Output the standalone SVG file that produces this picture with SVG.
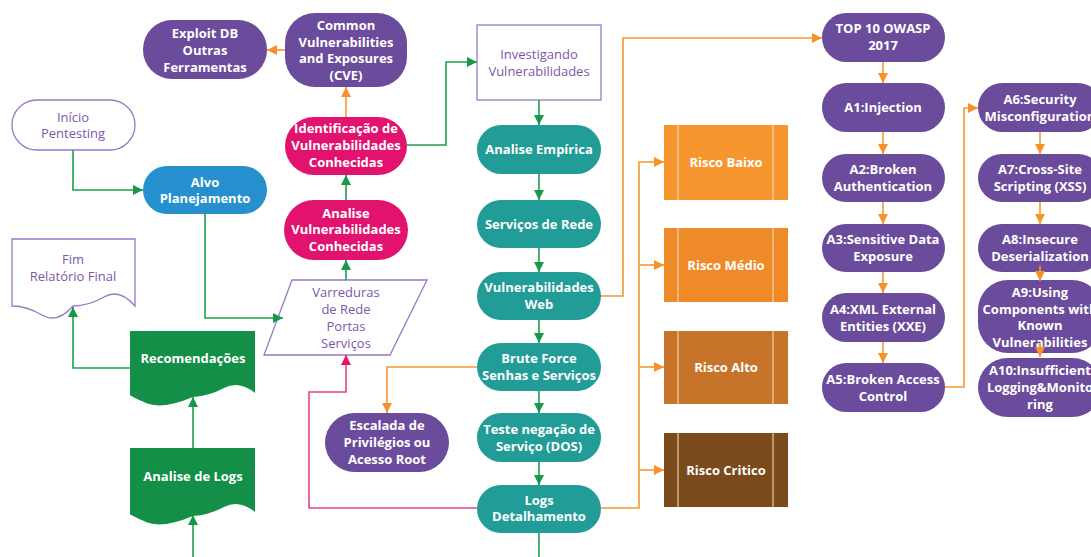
<svg xmlns="http://www.w3.org/2000/svg" width="1091" height="557" viewBox="0 0 1091 557">
<defs>
<style>
.t{font-family:"Open Sans","Noto Sans","DejaVu Sans",sans-serif;font-size:13px;text-anchor:middle;dominant-baseline:central}
.w{fill:#fff;font-weight:bold}
.p{fill:#7d56ad}
.purple{fill:#6b4b9b}
.teal{fill:#229c97}
.pink{fill:#e2136f}
.blue{fill:#2690cf}
.dgreen{fill:#138f48}
.outline{fill:#fff;stroke:#9a78c4;stroke-width:1.3}
.g{fill:none;stroke:#1da04c;stroke-width:1.6}
.o{fill:none;stroke:#f7972f;stroke-width:1.6}
.k{fill:none;stroke:#e8428c;stroke-width:1.6}
.div{stroke:#fbe3c8;stroke-width:1}
</style>
<marker id="ag" viewBox="0 0 10 10" refX="10" refY="5" markerWidth="11" markerHeight="10" markerUnits="userSpaceOnUse" orient="auto"><path d="M0,0L10,5L0,10z" fill="#17994a"/></marker>
<marker id="ao" viewBox="0 0 10 10" refX="10" refY="5" markerWidth="11" markerHeight="10" markerUnits="userSpaceOnUse" orient="auto"><path d="M0,0L10,5L0,10z" fill="#f7922a"/></marker>
<marker id="ak" viewBox="0 0 10 10" refX="10" refY="5" markerWidth="11" markerHeight="10" markerUnits="userSpaceOnUse" orient="auto"><path d="M0,0L10,5L0,10z" fill="#e4136f"/></marker>
</defs>
<rect width="1091" height="557" fill="#fff"/>

<g id="exploit-db"><rect class="purple" x="143" y="20" width="124" height="59" rx="29"/><text class="t w" x="205"><tspan x="205" y="33">Exploit DB</tspan><tspan x="205" y="50">Outras</tspan><tspan x="205" y="67">Ferramentas</tspan></text></g>
<g id="inicio"><rect class="outline" x="12" y="100" width="123" height="50" rx="25"/><text class="t p"><tspan x="73" y="117">Início</tspan><tspan x="73" y="133">Pentesting</tspan></text></g>
<g id="alvo"><rect class="blue" x="143" y="166" width="124" height="48" rx="24"/><text class="t w"><tspan x="205" y="182">Alvo</tspan><tspan x="205" y="198">Planejamento</tspan></text></g>
<g id="cve"><rect class="purple" x="285" y="13" width="122" height="74" rx="30"/><text class="t w"><tspan x="346" y="25">Common</tspan><tspan x="346" y="42">Vulnerabilities</tspan><tspan x="346" y="58">and Exposures</tspan><tspan x="346" y="75">(CVE)</tspan></text></g>
<g id="identificacao"><rect class="pink" x="285" y="117" width="122" height="58" rx="29"/><text class="t w"><tspan x="346" y="128">Identificação de</tspan><tspan x="346" y="145">Vulnerabilidades</tspan><tspan x="346" y="162">Conhecidas</tspan></text></g>
<g id="analise-vuln"><rect class="pink" x="284" y="200" width="124" height="60" rx="30"/><text class="t w"><tspan x="346" y="213">Analise</tspan><tspan x="346" y="229">Vulnerabilidades</tspan><tspan x="346" y="246">Conhecidas</tspan></text></g>
<g id="varreduras"><path class="outline" d="M292,280H427L390,355H264Z"/><text class="t p"><tspan x="346" y="292">Varreduras</tspan><tspan x="346" y="309">de Rede</tspan><tspan x="346" y="326">Portas</tspan><tspan x="346" y="343">Serviços</tspan></text></g>
<g id="investigando"><rect class="outline" x="477" y="25" width="124" height="75"/><text class="t p"><tspan x="539" y="54">Investigando</tspan><tspan x="539" y="71">Vulnerabilidades</tspan></text></g>
<g id="empirica"><rect class="teal" x="477" y="125" width="124" height="49" rx="24.5"/><text class="t w" x="539" y="149">Analise Empírica</text></g>
<g id="servicos"><rect class="teal" x="477" y="200" width="124" height="48" rx="24"/><text class="t w" x="539" y="224">Serviços de Rede</text></g>
<g id="vuln-web"><rect class="teal" x="477" y="272" width="124" height="48" rx="24"/><text class="t w"><tspan x="539" y="287">Vulnerabilidades</tspan><tspan x="539" y="304">Web</tspan></text></g>
<g id="brute"><rect class="teal" x="477" y="343" width="124" height="48" rx="24"/><text class="t w"><tspan x="539" y="358">Brute Force</tspan><tspan x="539" y="375">Senhas e Serviços</tspan></text></g>
<g id="dos"><rect class="teal" x="477" y="413" width="124" height="49" rx="24.5"/><text class="t w"><tspan x="539" y="429">Teste negação de</tspan><tspan x="539" y="446">Serviço (DOS)</tspan></text></g>
<g id="logs"><rect class="teal" x="477" y="485" width="124" height="48" rx="24"/><text class="t w"><tspan x="539" y="500">Logs</tspan><tspan x="539" y="516">Detalhamento</tspan></text></g>
<g id="escalada"><rect class="purple" x="325" y="413" width="124" height="59" rx="29.5"/><text class="t w"><tspan x="387" y="425">Escalada de</tspan><tspan x="387" y="442">Privilégios ou</tspan><tspan x="387" y="459">Acesso Root</tspan></text></g>

<g id="fim"><path class="outline" d="M12,239H135V306Q119.5,288 104,297T73,306Q57.5,324 42,315T12,306Z"/><text class="t p"><tspan x="73" y="259">Fim</tspan><tspan x="73" y="276">Relatório Final</tspan></text></g>
<g id="recomendacoes"><path class="dgreen" d="M130,331H255V393Q239,380 224,388T193,397Q162,410 146,403T130,395Z"/><text class="t w" x="193" y="358">Recomendações</text></g>
<g id="analise-logs"><path class="dgreen" d="M130,448H255V512Q239,499 224,507T193,516Q162,529 146,522T130,514Z"/><text class="t w" x="193" y="476">Analise de Logs</text></g>

<g id="risco-baixo"><rect x="664" y="125" width="124" height="75" fill="#f7962f"/><path class="div" d="M678,125V200M773,125V200"/><text class="t w" x="726" y="162">Risco Baixo</text></g>
<g id="risco-medio"><rect x="664" y="228" width="124" height="74" fill="#ee8a27"/><path class="div" d="M678,228V302M773,228V302"/><text class="t w" x="726" y="265">Risco Médio</text></g>
<g id="risco-alto"><rect x="664" y="331" width="124" height="73" fill="#c7742a"/><path class="div" d="M678,331V404M773,331V404"/><text class="t w" x="726" y="367">Risco Alto</text></g>
<g id="risco-critico"><rect x="664" y="433" width="124" height="74" fill="#7a4a1a"/><path class="div" d="M678,433V507M773,433V507"/><text class="t w" x="726" y="470">Risco Critico</text></g>

<g id="top10"><rect class="purple" x="822" y="13" width="123" height="49" rx="24.5"/><text class="t w"><tspan x="883" y="28">TOP 10 OWASP</tspan><tspan x="883" y="45">2017</tspan></text></g>
<g id="a1"><rect class="purple" x="822" y="83" width="123" height="49" rx="24.5"/><text class="t w" x="883" y="107">A1:Injection</text></g>
<g id="a2"><rect class="purple" x="822" y="154" width="123" height="48" rx="24"/><text class="t w"><tspan x="883" y="169">A2:Broken</tspan><tspan x="883" y="186">Authentication</tspan></text></g>
<g id="a3"><rect class="purple" x="822" y="224" width="123" height="48" rx="24"/><text class="t w"><tspan x="883" y="239">A3:Sensitive Data</tspan><tspan x="883" y="256">Exposure</tspan></text></g>
<g id="a4"><rect class="purple" x="822" y="293" width="123" height="49" rx="24.5"/><text class="t w"><tspan x="883" y="309">A4:XML External</tspan><tspan x="883" y="326">Entities (XXE)</tspan></text></g>
<g id="a5"><rect class="purple" x="822" y="363" width="123" height="49" rx="24.5"/><text class="t w"><tspan x="883" y="379">A5:Broken Access</tspan><tspan x="883" y="396">Control</tspan></text></g>
<g id="a6"><rect class="purple" x="978" y="83" width="124" height="49" rx="24.5"/><text class="t w"><tspan x="1040" y="99">A6:Security</tspan><tspan x="1040" y="116">Misconfiguration</tspan></text></g>
<g id="a7"><rect class="purple" x="978" y="154" width="124" height="48" rx="24"/><text class="t w"><tspan x="1040" y="169">A7:Cross-Site</tspan><tspan x="1040" y="186">Scripting (XSS)</tspan></text></g>
<g id="a8"><rect class="purple" x="978" y="224" width="124" height="48" rx="24"/><text class="t w"><tspan x="1040" y="239">A8:Insecure</tspan><tspan x="1040" y="256">Deserialization</tspan></text></g>
<g id="a9"><rect class="purple" x="978" y="280" width="124" height="73" rx="30"/><text class="t w"><tspan x="1040" y="292">A9:Using</tspan><tspan x="1040" y="309">Components with</tspan><tspan x="1040" y="325">Known</tspan><tspan x="1040" y="342">Vulnerabilities</tspan></text></g>
<g id="a10"><rect class="purple" x="978" y="358" width="124" height="59" rx="29.5"/><text class="t w"><tspan x="1040" y="370">A10:Insufficient</tspan><tspan x="1040" y="387">Logging&amp;Monito</tspan><tspan x="1040" y="404">ring</tspan></text></g>

<g id="connectors">
<path class="g" marker-end="url(#ag)" d="M73,150V190H143"/>
<path class="g" marker-end="url(#ag)" d="M205,214V318H283"/>
<path class="g" marker-end="url(#ag)" d="M346,280V260"/>
<path class="g" marker-end="url(#ag)" d="M346,200V175"/>
<path class="g" marker-end="url(#ag)" d="M407,145H446V62H477"/>
<path class="g" marker-end="url(#ag)" d="M539,100V125"/>
<path class="g" marker-end="url(#ag)" d="M539,174V200"/>
<path class="g" marker-end="url(#ag)" d="M539,248V272"/>
<path class="g" marker-end="url(#ag)" d="M539,320V343"/>
<path class="g" marker-end="url(#ag)" d="M539,391V413"/>
<path class="g" marker-end="url(#ag)" d="M539,462V485"/>
<path class="g" d="M539,533V557"/>
<path class="g" marker-end="url(#ag)" d="M130,368H73V307"/>
<path class="g" marker-end="url(#ag)" d="M193,448V397"/>
<path class="g" marker-end="url(#ag)" d="M193,557V515"/>
<path class="o" marker-end="url(#ao)" d="M346,117V87"/>
<path class="o" marker-end="url(#ao)" d="M285,50H267"/>
<path class="o" marker-end="url(#ao)" d="M601,296H623V38H822"/>
<path class="o" marker-end="url(#ao)" d="M477,367H387V413"/>
<path class="o" marker-end="url(#ao)" d="M601,508H639V162H664"/>
<path class="o" marker-end="url(#ao)" d="M639,265H664"/>
<path class="o" marker-end="url(#ao)" d="M639,367H664"/>
<path class="o" marker-end="url(#ao)" d="M639,470H664"/>
<path class="o" marker-end="url(#ao)" d="M883,62V83"/>
<path class="o" marker-end="url(#ao)" d="M883,132V154"/>
<path class="o" marker-end="url(#ao)" d="M883,202V224"/>
<path class="o" marker-end="url(#ao)" d="M883,272V293"/>
<path class="o" marker-end="url(#ao)" d="M883,342V363"/>
<path class="o" marker-end="url(#ao)" d="M945,387H964V108H978"/>
<path class="o" marker-end="url(#ao)" d="M1040,132V154"/>
<path class="o" marker-end="url(#ao)" d="M1040,202V224"/>
<path class="o" marker-end="url(#ao)" d="M1040,266V281"/>
<path class="o" marker-end="url(#ao)" d="M1040,343V357"/>
<path class="k" marker-end="url(#ak)" d="M477,508H309V392H346V355"/>
</g>
</svg>
